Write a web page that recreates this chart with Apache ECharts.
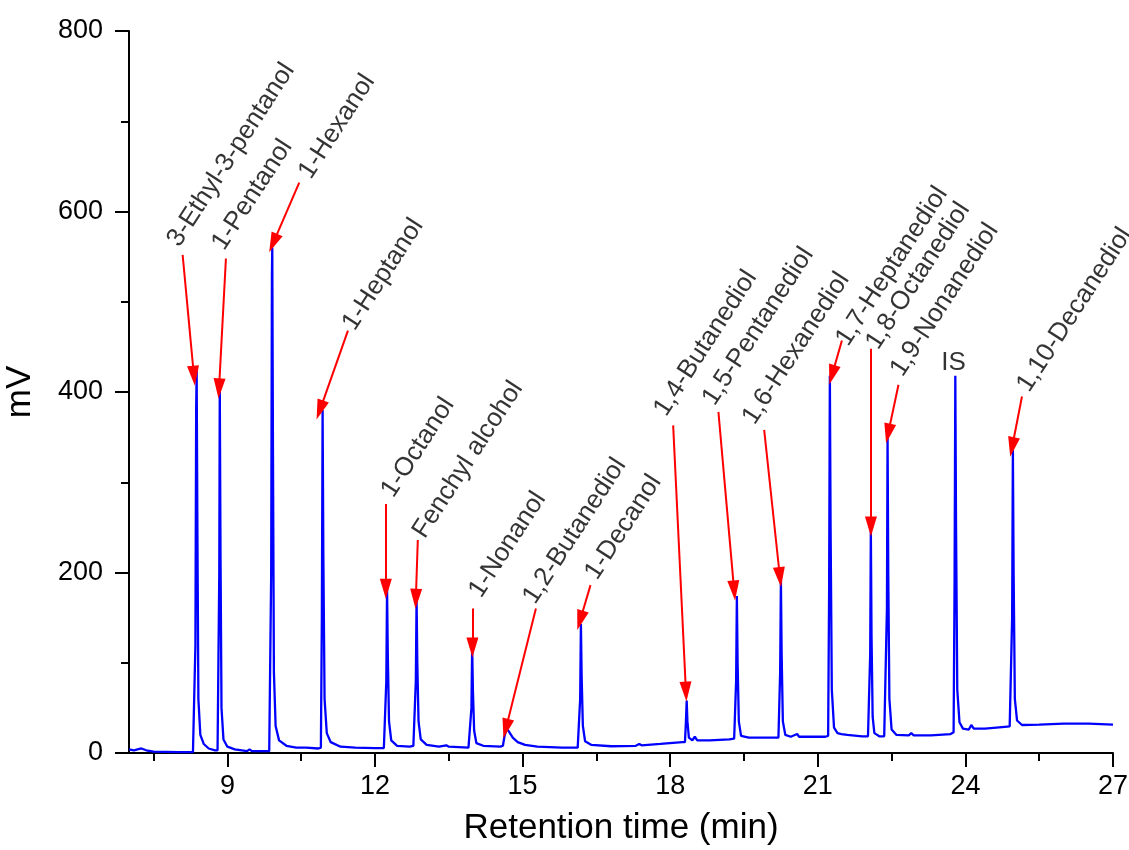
<!DOCTYPE html>
<html>
<head>
<meta charset="utf-8">
<script src="https://cdn.jsdelivr.net/npm/echarts@6/dist/echarts.min.js"></script>
<style>
html,body{margin:0;padding:0;background:#fff;}
#chart{width:1129px;height:850px;}
</style>
</head>
<body>
<div id="chart"></div>
<script>
// ---- data ----
const xMajorTicks = [9, 12, 15, 18, 21, 24, 27];
const xMinorTicks = [7.5, 10.5, 13.5, 16.5, 19.5, 22.5, 25.5];
const yTicks = [0, 200, 400, 600, 800];

// chromatogram: [retention time (min), signal (mV)]
const chromatogram = [
  [7.0, 4], [7.1, 3], [7.25, 5], [7.35, 3], [7.5, 1.5], [8.0, 1], [8.3, 1],
  [8.33, 2], [8.35, 120], [8.365, 380], [8.375, 424], [8.39, 250], [8.41, 60], [8.45, 20], [8.52, 10], [8.62, 5], [8.75, 3], [8.80, 3],
  [8.82, 4], [8.835, 200], [8.845, 406], [8.86, 220], [8.88, 50], [8.92, 15], [9.0, 7], [9.15, 4], [9.4, 2], [9.45, 4], [9.5, 2], [9.85, 2],
  [9.87, 3], [9.89, 200], [9.905, 530], [9.912, 560], [9.925, 350], [9.945, 90], [9.98, 30], [10.05, 14], [10.2, 8], [10.4, 6], [10.6, 6], [10.85, 5],
  [10.9, 6], [10.92, 150], [10.935, 380], [10.95, 220], [10.975, 60], [11.02, 22], [11.1, 12], [11.3, 7], [11.6, 6], [12.0, 5.5], [12.18, 5.5],
  [12.21, 6], [12.23, 80], [12.245, 182], [12.26, 110], [12.285, 35], [12.33, 14], [12.45, 8], [12.7, 7], [12.78, 8],
  [12.81, 8], [12.83, 80], [12.845, 171], [12.86, 100], [12.885, 35], [12.93, 15], [13.05, 9], [13.3, 7], [13.45, 8.5], [13.5, 7], [13.9, 6],
  [13.94, 6], [13.96, 50], [13.975, 117], [13.99, 70], [14.015, 25], [14.06, 11], [14.2, 8], [14.55, 7],
  [14.6, 8], [14.63, 18], [14.67, 27], [14.72, 24], [14.8, 17], [14.9, 12], [15.05, 9], [15.3, 7], [15.8, 6], [16.12, 6],
  [16.15, 7], [16.17, 60], [16.185, 143], [16.2, 85], [16.225, 30], [16.27, 13], [16.4, 9], [16.8, 7.5], [17.3, 8], [17.37, 10], [17.42, 8.5], [17.8, 10], [18.25, 12],
  [18.3, 12], [18.32, 35], [18.335, 58], [18.35, 35], [18.38, 17], [18.45, 14], [18.5, 18], [18.55, 14], [18.8, 14], [19.2, 15], [19.3, 16],
  [19.32, 16], [19.34, 80], [19.355, 174], [19.37, 100], [19.395, 35], [19.44, 19], [19.6, 17], [19.9, 17], [20.2, 17],
  [20.22, 18], [20.235, 90], [20.25, 192], [20.265, 110], [20.29, 35], [20.34, 20], [20.45, 18], [20.58, 21], [20.62, 18], [20.9, 18], [21.15, 18],
  [21.21, 19], [21.23, 180], [21.245, 418], [21.26, 250], [21.285, 70], [21.33, 28], [21.4, 22], [21.48, 21], [21.52, 23], [21.6, 20], [21.9, 18.5], [22.02, 18.5],
  [22.05, 19], [22.065, 110], [22.078, 249], [22.092, 130], [22.115, 40], [22.15, 22], [22.25, 18.5], [22.35, 18.5],
  [22.39, 20], [22.405, 160], [22.418, 352], [22.432, 200], [22.455, 60], [22.5, 26], [22.6, 20], [22.85, 19.5], [22.9, 22], [22.95, 19.5], [23.3, 19.5], [23.7, 21],
  [23.76, 23], [23.78, 190], [23.795, 418], [23.81, 250], [23.835, 70], [23.88, 34], [23.95, 27], [24.07, 26], [24.12, 31], [24.17, 27], [24.4, 27], [24.8, 29], [24.9, 29.5],
  [24.93, 31], [24.95, 150], [24.965, 336], [24.98, 200], [25.005, 60], [25.05, 36], [25.15, 31], [25.5, 31.5], [26.0, 32.5], [26.5, 32.5], [27.0, 31.5]
];

const compounds = [
  '3-Ethyl-3-pentanol', '1-Pentanol', '1-Hexanol', '1-Heptanol', '1-Octanol',
  'Fenchyl alcohol', '1-Nonanol', '1,2-Butanediol', '1-Decanol', '1,4-Butanediol',
  '1,5-Pentanediol', '1,6-Hexanediol', '1,7-Heptanediol', '1,8-Octanediol',
  '1,9-Nonanediol', '1,10-Decanediol'
];
// where each rotated label text starts [min, mV]
const labelStart = [
  [7.90, 564], [8.81, 560], [10.57, 639], [11.46, 471], [12.25, 286],
  [12.89, 241], [14.03, 175], [15.13, 168], [16.39, 195], [17.79, 376],
  [18.78, 388], [19.59, 367], [21.49, 454], [22.10, 450],
  [22.60, 420], [25.17, 403]
];
// arrow tail and head [min, mV]
const arrowFrom = [
  [8.09, 552], [8.97, 548], [10.46, 632], [11.45, 468], [12.22, 276],
  [12.87, 236], [13.98, 160], [15.27, 160], [16.38, 186], [18.06, 363],
  [18.98, 378], [19.91, 358], [21.49, 457], [22.08, 448],
  [22.64, 408], [25.15, 395]
];
const arrowTo = [
  [8.32, 418], [8.83, 404], [9.93, 565], [10.88, 380], [12.22, 182],
  [12.83, 171], [13.98, 117], [14.66, 27], [16.17, 147], [18.32, 68],
  [19.30, 180], [20.23, 195], [21.29, 419], [22.08, 251],
  [22.43, 354], [24.95, 339]
];
const internalStandard = { name: 'IS', at: [23.76, 432] };

// ---- chart ----
const FONT = 'Liberation Sans, Arial, sans-serif';
const chart = echarts.init(document.getElementById('chart'));

const labelData = compounds.map((n, i) => ({ name: n, value: labelStart[i] }));
const arrowData = arrowFrom.map((p, i) => [{ coord: p }, { coord: arrowTo[i] }]);

chart.setOption({
  animation: false,
  backgroundColor: '#ffffff',
  grid: { left: 129, right: 16, top: 31, bottom: 97, containLabel: false, outerBoundsMode: 'none' },
  xAxis: [
    {
      type: 'value', min: 7, max: 27, position: 'bottom',
      name: 'Retention time (min)', nameLocation: 'middle', nameGap: 58,
      nameTextStyle: { fontFamily: FONT, fontSize: 35, color: '#000' },
      axisLine: { show: true, onZero: false, lineStyle: { color: '#000', width: 2 } },
      axisTick: { show: true, customValues: xMajorTicks, length: 14, lineStyle: { color: '#000', width: 2 } },
      axisLabel: { show: true, customValues: xMajorTicks, fontFamily: FONT, fontSize: 27, color: '#000', margin: 20 },
      splitLine: { show: false }
    },
    {
      type: 'value', min: 7, max: 27, position: 'bottom',
      axisLine: { show: false },
      axisTick: { show: true, customValues: xMinorTicks, length: 8, lineStyle: { color: '#000', width: 2 } },
      axisLabel: { show: false },
      splitLine: { show: false }
    }
  ],
  yAxis: {
    type: 'value', min: 0, max: 800, interval: 200,
    name: 'mV', nameLocation: 'middle', nameGap: 91, nameRotate: 90,
    nameTextStyle: { fontFamily: FONT, fontSize: 35, color: '#000' },
    axisLine: { show: true, onZero: false, lineStyle: { color: '#000', width: 2 } },
    axisTick: { show: true, length: 14, lineStyle: { color: '#000', width: 2 } },
    minorTick: { show: true, splitNumber: 2, length: 8, lineStyle: { color: '#000', width: 2 } },
    axisLabel: {
      fontFamily: FONT, fontSize: 27, color: '#000', margin: 26,
      formatter: v => (yTicks.indexOf(v) >= 0 ? String(v) : '')
    },
    splitLine: { show: false }
  },
  series: [
    {
      type: 'line', xAxisIndex: 0, data: chromatogram,
      showSymbol: false, symbol: 'none',
      lineStyle: { color: '#0000ff', width: 2.3 },
      silent: true,
      markLine: {
        silent: true, animation: false,
        symbol: ['none', 'triangle'], symbolSize: [12, 20],
        lineStyle: { color: '#ff0000', width: 2, type: 'solid' },
        itemStyle: { color: '#ff0000' },
        label: { show: false },
        emphasis: { disabled: true },
        data: arrowData
      }
    },
    {
      type: 'scatter', xAxisIndex: 0, data: labelData,
      symbolSize: 0, silent: true,
      label: {
        show: true, position: [0, 0], rotate: 57, align: 'left', verticalAlign: 'middle',
        formatter: p => p.name, fontFamily: FONT, fontSize: 26, color: '#000'
      }
    },
    {
      type: 'scatter', xAxisIndex: 0,
      data: [{ name: internalStandard.name, value: internalStandard.at }],
      symbolSize: 0, silent: true,
      label: {
        show: true, position: [0, 0], align: 'center', verticalAlign: 'middle',
        formatter: p => p.name, fontFamily: FONT, fontSize: 26, color: '#000'
      }
    }
  ]
});
</script>
</body>
</html>
